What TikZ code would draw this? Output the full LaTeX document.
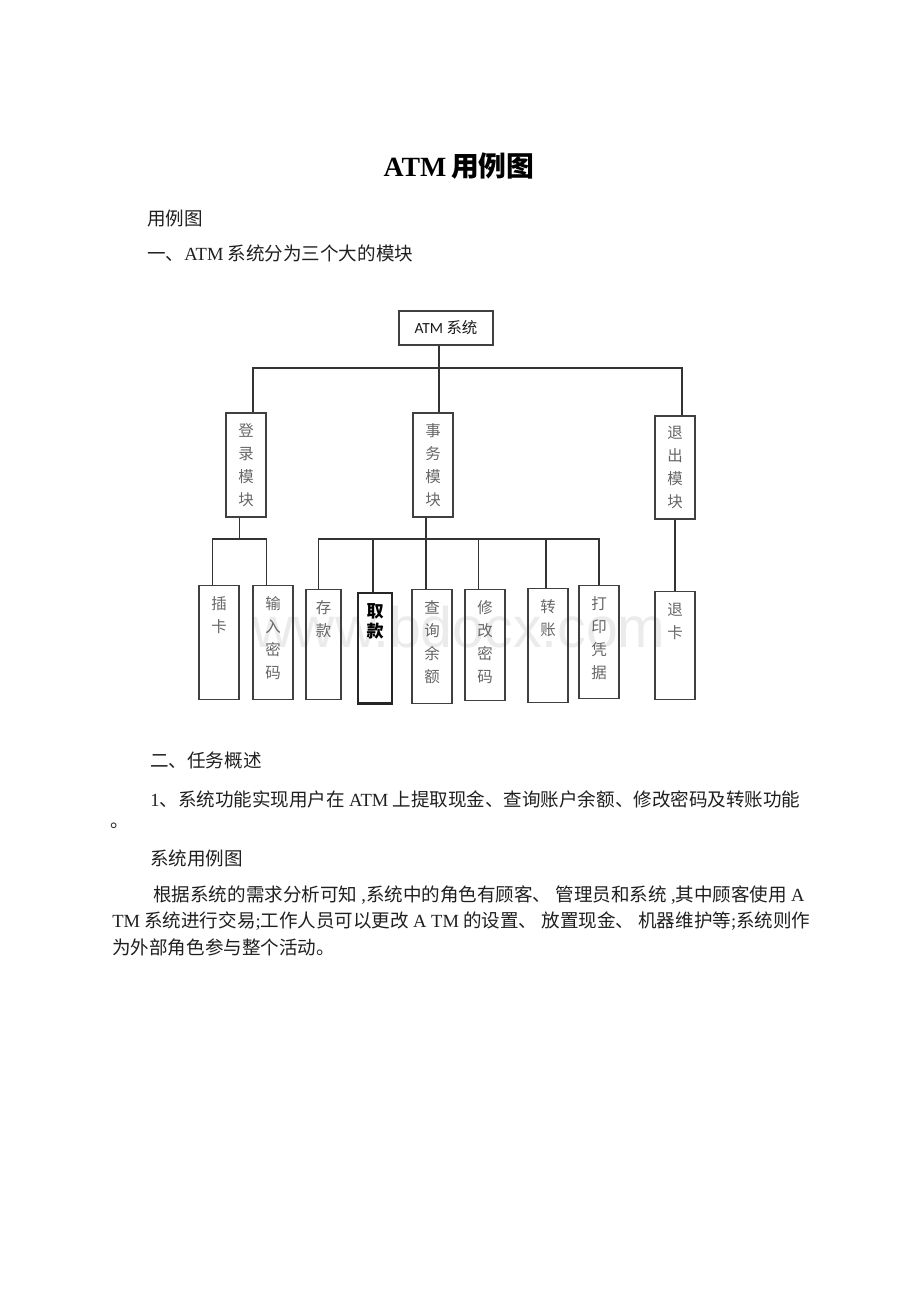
\documentclass[tikz,border=0pt]{standalone}
\usepackage{fontspec}
\setmainfont{Noto Sans CJK SC}
\newfontfamily\tnr{Liberation Serif}
\newfontfamily\calfont{Carlito}
\newfontfamily\wmfont{Liberation Sans}
\usetikzlibrary{positioning}

\begin{document}
\begin{tikzpicture}[x=0.6471pt, y=-0.6471pt,
    link/.style={draw=black!80, line width=0.8pt},
    box/.style={draw=black!75, line width=0.9pt, inner sep=0pt, align=center,
        font=\fontsize{10}{14.8}\selectfont, text=black!60},
    modbox/.style={box, minimum width=25.9pt, minimum height=67.3pt},
    leaf/.style={box, anchor=north, minimum width=25.9pt},
    leaftwo/.style={leaf, text height=30.3pt, text depth=43.5pt},
    leaffour/.style={leaf, text height=59.9pt, text depth=13.9pt},
    body/.style={anchor=west, inner sep=0pt, font=\fontsize{12}{14}\selectfont, text=black!88},
    wmark/.style={inner sep=0pt, font=\wmfont\fontsize{37}{40}\selectfont, text=black!8}]

    \useasboundingbox (0,0) rectangle (920,1302);

    % heading and first lines
    \node[inner sep=0pt, font=\fontsize{18}{20}\selectfont\bfseries] (title) at (459,166) {{\tnr ATM}\,用例图};
    \node[body] (h0) at (147,219) {用例图};
    \node[body] (h1) at (147,253) {一、{\tnr ATM} 系统分为三个大的模块};

    % watermark behind the chart
    \node[wmark] (wm) at (459,627) {www.bdocx.com};

    % chart
    \node[box, minimum width=60.8pt, minimum height=22pt, text=black!90] (atm) at (446,328) {{\calfont ATM} 系统};

    \node[modbox] (login) at (246,465) {登\\录\\模\\块};
    \node[modbox] (trans) at (433,465) {事\\务\\模\\块};
    \node[modbox, minimum height=66.7pt] (exit) at (675,467.5) {退\\出\\模\\块};

    \node[leaftwo] (chaka) at (219,585) {插\\卡};
    \node[leaffour] (shuru) at (273,585) {输\\入\\密\\码};
    \node[leaftwo, minimum width=22.6pt, text depth=40.9pt] (cunkuan) at (323.5,589) {存\\款};
    \node[leaf, minimum width=22pt, text height=28.4pt, text depth=42.8pt, line width=1.6pt, draw=black!85, text=black,
        font=\fontsize{11}{12.5}\selectfont\bfseries] (qukuan) at (375,592) {取\\款};
    \node[leaffour] (chaxun) at (432,589) {查\\询\\余\\额};
    \node[leaffour, text depth=11.9pt] (xiugai) at (485,589) {修\\改\\密\\码};
    \node[leaftwo] (zhuan) at (548,588) {转\\账};
    \node[leaffour, text depth=13.2pt] (dayin) at (599,585) {打\\印\\凭\\据};
    \node[leaftwo, text depth=39.6pt] (tuika) at (675,591) {退\\卡};

    \coordinate (busA) at (0,368);
    \coordinate (busB) at (0,539);

    \draw[link] ([xshift=-4.5pt]atm.south) -- ([xshift=-4.5pt]atm.south |- trans.north);
    \draw[link] ([xshift=4.5pt]login.north) |- ([xshift=4.5pt]exit.north |- busA) -- ([xshift=4.5pt]exit.north);

    \draw[link] ([xshift=-4pt]login.south) -- ([xshift=-4pt]login.south |- busB);
    \draw[link] ([xshift=-4pt]chaka.north) |- ([xshift=-4pt]shuru.north |- busB) -- ([xshift=-4pt]shuru.north);

    \draw[link] ([xshift=-4.5pt]trans.south) -- ([xshift=-4.5pt]trans.south |- chaxun.north);
    \draw[link] ([xshift=-3pt]cunkuan.north) |- (dayin.north |- busB) -- (dayin.north);
    \draw[link] ([xshift=-1.3pt]qukuan.north) -- ([xshift=-1.3pt]qukuan.north |- busB);
    \draw[link] ([xshift=-4pt]xiugai.north) -- ([xshift=-4pt]xiugai.north |- busB);
    \draw[link] ([xshift=-1.3pt]zhuan.north) -- ([xshift=-1.3pt]zhuan.north |- busB);

    \draw[link] (exit.south) -- (exit.south |- tuika.north);

    % task overview
    \node[body] (h2) at (150,760) {二、任务概述};
    \node[body] (p1) at (150,799) {{\tnr 1}、系统功能实现用户在 {\tnr ATM} 上提取现金、查询账户余额、修改密码及转账功能};
    \node[body] (p1b) at (110,826) {。};
    \node[body] (h3) at (150,858) {系统用例图};
    \node[body] (q1) at (153,895) {根据系统的需求分析可知 {\tnr ,}系统中的角色有顾客、 管理员和系统 {\tnr ,}其中顾客使用 {\tnr A}};
    \node[body] (q2) at (112,921) {{\tnr TM} 系统进行交易{\tnr ;}工作人员可以更改 {\tnr A TM} 的设置、 放置现金、 机器维护等{\tnr ;}系统则作};
    \node[body] (q3) at (112,947) {为外部角色参与整个活动。};

\end{tikzpicture}
\end{document}
